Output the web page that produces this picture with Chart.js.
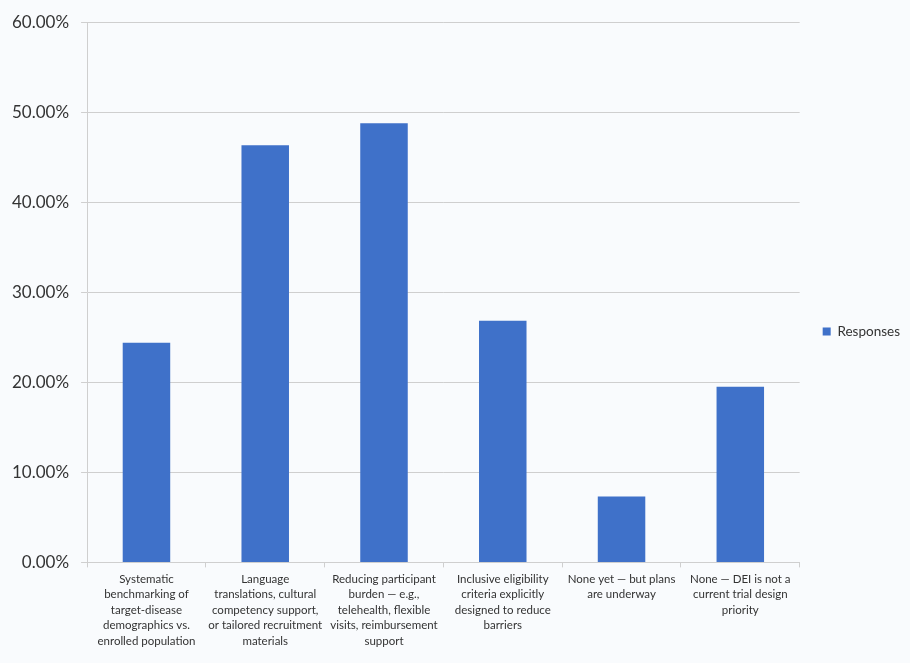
<!DOCTYPE html>
<html>
<head>
<meta charset="utf-8">
<script src="https://cdn.jsdelivr.net/npm/chart.js@4.4.0/dist/chart.umd.min.js"></script>
<style>
    html, body { margin: 0; padding: 0; background: #f9fbfd; }
    #wrap { width: 910px; height: 663px; position: relative; }
</style>
</head>
<body>
<div id="wrap"><canvas id="dsChart"></canvas></div>
<script>
// Survey answers (wrapped as in the original axis labels)
const categories = [
    ['Systematic', 'benchmarking of', 'target-disease', 'demographics vs.', 'enrolled population'],
    ['Language', 'translations, cultural', 'competency support,', 'or tailored recruitment', 'materials'],
    ['Reducing participant', 'burden \u2014 e.g.,', 'telehealth, flexible', 'visits, reimbursement', 'support'],
    ['Inclusive eligibility', 'criteria explicitly', 'designed to reduce', 'barriers'],
    ['None yet \u2014 but plans', 'are underway'],
    ['None \u2014 DEI is not a', 'current trial design', 'priority']
];
const responses = [24.39, 46.34, 48.78, 26.83, 7.32, 19.51];
const yTicks = [0, 10, 20, 30, 40, 50, 60];

const gridGrey = '#cfcfcf';

function initializeChart() {
    const ctx = document.getElementById('dsChart').getContext('2d');
    new Chart(ctx, {
        type: 'bar',
        data: {
            labels: categories,
            datasets: [{
                label: 'Responses',
                data: responses,
                backgroundColor: '#3f71c9',
                borderColor: '#3f71c9',
                borderWidth: 0,
                categoryPercentage: 1,
                barPercentage: 0.4
            }]
        },
        options: {
            responsive: true,
            maintainAspectRatio: false,
            animation: false,
            layout: { padding: { top: 10, right: 0, bottom: 10, left: 0 } },
            scales: {
                x: {
                    grid: {
                        color: gridGrey,
                        drawOnChartArea: false,
                        drawTicks: true,
                        tickLength: 5
                    },
                    border: { color: gridGrey },
                    ticks: {
                        color: '#333',
                        font: { family: 'Lato', size: 11.5, lineHeight: 1.35 },
                        maxRotation: 0,
                        autoSkip: false,
                        padding: 4
                    }
                },
                y: {
                    min: 0,
                    max: 60,
                    afterBuildTicks: axis => { axis.ticks = yTicks.map(v => ({ value: v })); },
                    grid: { color: gridGrey, tickLength: 6 },
                    border: { color: gridGrey },
                    ticks: {
                        color: '#333',
                        font: { family: 'Lato', size: 17 },
                        padding: 12,
                        callback: value => value.toFixed(2) + '%'
                    }
                },
            },
            plugins: {
                legend: {
                    position: 'right',
                    labels: {
                        boxWidth: 8,
                        boxHeight: 8,
                        color: '#333',
                        font: { family: 'Lato', size: 13.5 },
                        padding: 23
                    }
                },
                tooltip: { enabled: false }
            }
        }
    });
}

initializeChart();
</script>
</body>
</html>
